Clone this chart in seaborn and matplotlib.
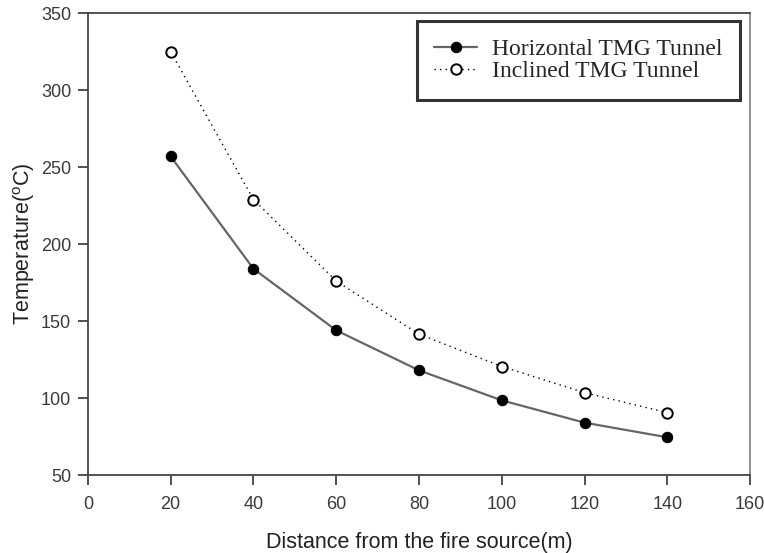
import pandas as pd
import matplotlib.pyplot as plt
import seaborn as sns

# values
distance = [20, 40, 60, 80, 100, 120, 140]
horizontal_temp = [257, 184, 144, 118, 98.5, 84, 74.5]
inclined_temp = [325, 229, 176, 141.5, 120.5, 103.5, 90.5]

x_ticks = [0, 20, 40, 60, 80, 100, 120, 140, 160]
y_ticks = [50, 100, 150, 200, 250, 300, 350]

df = pd.DataFrame({
    'distance': distance,
    'Horizontal TMG Tunnel': horizontal_temp,
    'Inclined TMG Tunnel': inclined_temp,
})

sns.set_style('ticks')
plt.rcParams['font.family'] = ['Liberation Sans', 'DejaVu Sans']
plt.rcParams['mathtext.default'] = 'regular'

fig = plt.figure(figsize=(7.64, 5.53), dpi=100)
ax = fig.add_axes([0.115, 0.141, 0.867, 0.835])

sns.lineplot(data=df, x='distance', y='Horizontal TMG Tunnel', ax=ax,
             color='#666666', linewidth=1.6, marker='o', markersize=7.5,
             markerfacecolor='black', markeredgecolor='black',
             label='Horizontal TMG Tunnel')
sns.lineplot(data=df, x='distance', y='Inclined TMG Tunnel', ax=ax,
             color='black', linewidth=1.0, linestyle=(0, (1, 3)),
             marker='o', markersize=7.5, markerfacecolor='white',
             markeredgecolor='black', markeredgewidth=1.4,
             label='Inclined TMG Tunnel')

ax.set_xlim(0, 160)
ax.set_ylim(50, 350)
ax.set_xticks(x_ticks)
ax.set_yticks(y_ticks)
ax.tick_params(axis='both', direction='out', length=7, width=1.2,
               color='#333333', labelcolor='#3a3a3a', labelsize=13)
ax.tick_params(axis='x', pad=8)
ax.tick_params(axis='y', pad=5)
for side in ['left', 'bottom', 'top', 'right']:
    ax.spines[side].set_color('#444444')
    ax.spines[side].set_linewidth(1.3)
ax.spines['right'].set_color('#888888')

ax.set_xlabel('Distance from the fire source(m)', fontsize=15.5, color='#222222', labelpad=14)
ax.set_ylabel('Temperature($^{o}$C)', fontsize=15.5, color='#222222', labelpad=3)

leg = ax.legend(loc='upper right', bbox_to_anchor=(0.985, 0.983),
                prop={'family': 'Liberation Serif', 'size': 17},
                frameon=True, fancybox=False, edgecolor='black',
                handlelength=1.8, borderpad=0.75, labelspacing=0.0,
                handletextpad=0.65, borderaxespad=0)
leg.get_frame().set_linewidth(2.2)

fig.savefig('out.png', dpi=100)
